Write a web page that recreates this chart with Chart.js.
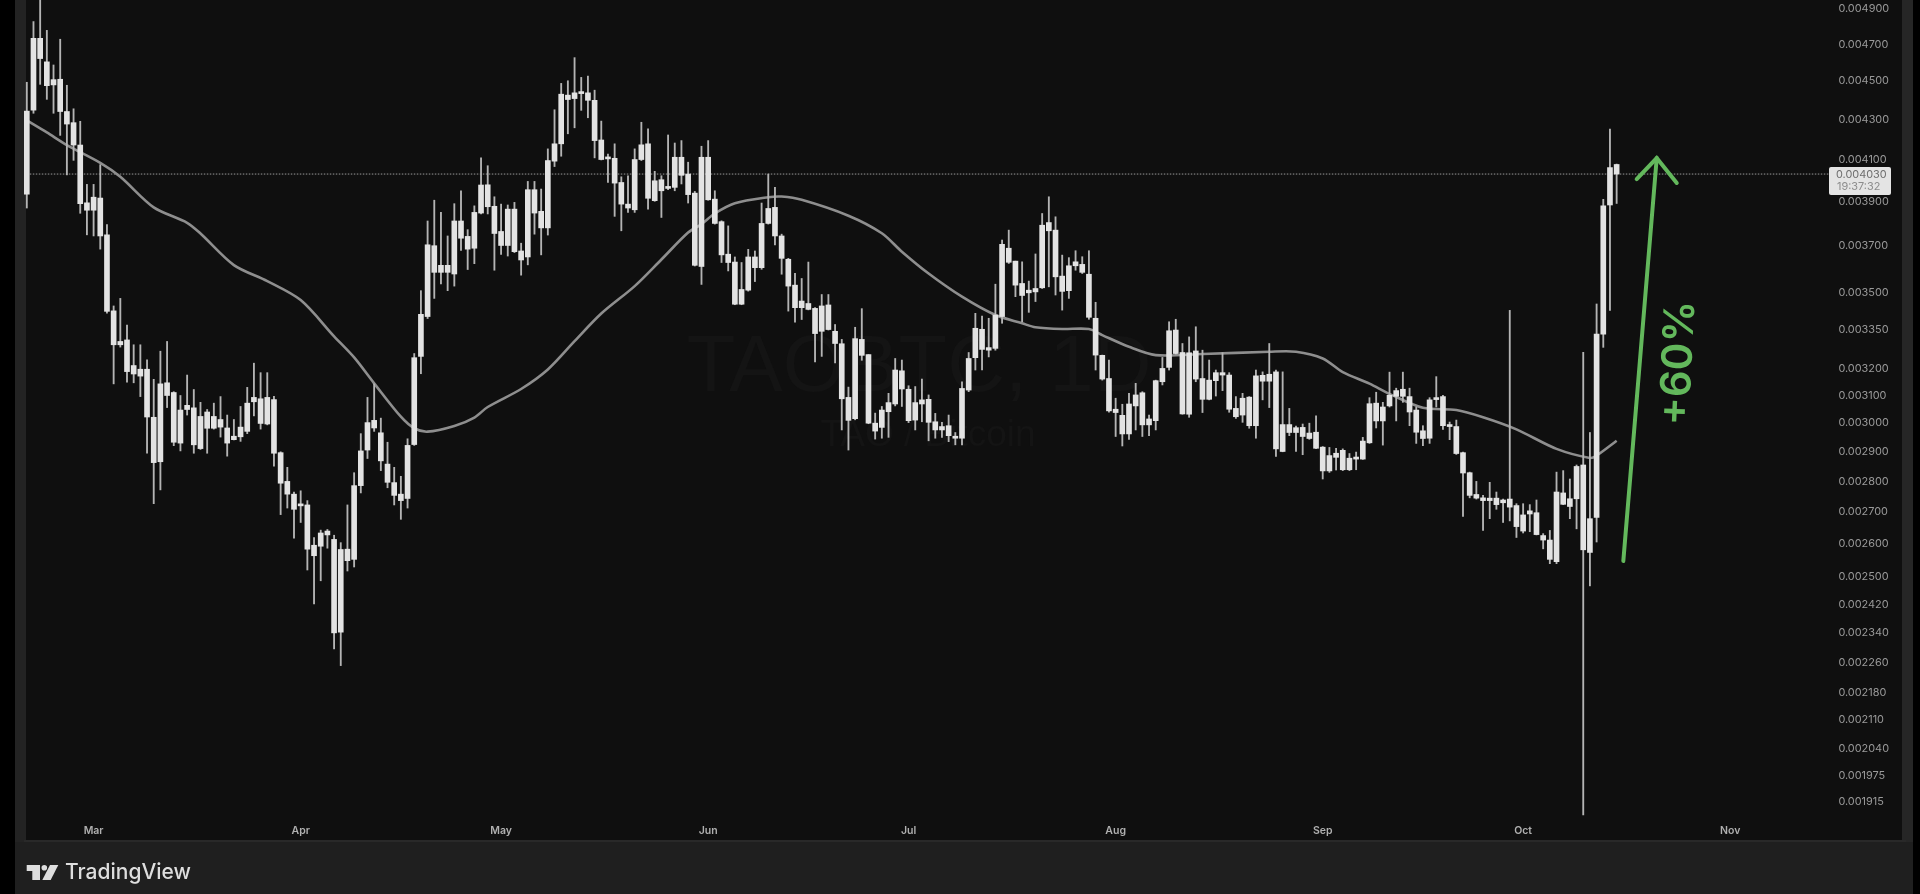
<!DOCTYPE html>
<html>
<head>
<meta charset="utf-8">
<title>TAOBTC, 1D</title>
<script src="https://cdn.jsdelivr.net/npm/chart.js@4"></script>
<style>
  html, body { margin: 0; padding: 0; background: #000; }
  canvas { display: block; }
</style>
</head>
<body>
<canvas id="chart" width="1920" height="894"></canvas>
<script>
// prices are in millionths of a BTC, the axis labels divide them back
const wickHigh = [
  4493,4828,4953,4778,4586,4728,4477,4354,4290,3981,
  3981,4075,3796,3447,3478,3370,3292,3292,3234,3160,
  3267,3305,3114,3100,3176,3122,3075,3049,3072,3096,
  3029,3013,3060,3130,3221,3185,3185,3097,2900,2847,
  2765,2769,2737,2620,2643,2645,2627,2604,2723,2829,
  2963,3093,3143,3018,2933,2847,2817,2945,3258,3510,
  3812,3907,3851,3745,3891,3951,3773,3881,4108,4070,
  3923,3889,3885,3897,3713,3995,3995,3959,4152,4349,
  4487,4501,4626,4519,4526,4451,4291,4127,4177,4017,
  4022,4152,4285,4252,4043,4022,4221,4181,4193,4087,
  3948,4165,4193,3951,3813,3790,3653,3629,3686,3679,
  3894,4030,3967,3753,3647,3583,3561,3631,3440,3494,
  3494,3372,3313,3131,3361,3436,3254,3036,3060,3108,
  3239,3233,3136,3133,3161,3102,3035,3003,3029,2967,
  3151,3262,3417,3406,3397,3537,3727,3771,3635,3632,
  3550,3666,3846,3923,3831,3661,3650,3680,3654,3680,
  3462,3252,3233,3090,3068,3108,3145,3114,3029,3157,
  3243,3383,3393,3297,3323,3363,3271,3233,3195,3261,
  3185,3096,3108,3096,3195,3188,3297,3195,3188,3053,
  2990,2997,3000,3026,2918,2915,2912,2910,2894,2899,
  2950,3092,3112,3075,3187,3127,3187,3127,3058,2991,
  3092,3170,3101,3004,3011,2899,2831,2800,2754,2797,
  2765,2742,3429,2727,2727,2724,2739,2632,2642,2831,
  2836,2808,2855,3263,2967,3455,3911,4250,4078
];
const bodyHigh = [
  4342,4733,4733,4603,4507,4509,4340,4283,4171,3895,
  3921,3917,3750,3427,3305,3311,3212,3198,3198,3021,
  3143,3147,3111,3047,3064,3055,3024,3040,3024,3013,
  2983,2954,2986,3072,3093,3088,3093,3085,2897,2800,
  2758,2723,2723,2596,2634,2640,2614,2583,2584,2786,
  2903,3002,3010,2966,2858,2796,2758,2922,3242,3413,
  3706,3702,3617,3617,3812,3812,3743,3851,3978,3979,
  3879,3765,3866,3866,3679,3956,3956,3856,4095,4177,
  4430,4425,4437,4437,4437,4398,4196,4108,4106,3990,
  3889,4100,4172,4177,3998,4003,3967,4111,4111,4030,
  3940,4111,4111,3912,3809,3665,3631,3515,3653,3653,
  3801,3869,3874,3745,3643,3533,3467,3457,3437,3447,
  3451,3345,3296,3093,3316,3313,3254,3000,3047,3074,
  3195,3192,3123,3074,3084,3086,3005,2988,2991,2952,
  3126,3239,3357,3353,3281,3410,3708,3691,3635,3540,
  3512,3519,3793,3805,3771,3571,3615,3632,3621,3579,
  3397,3251,3163,3050,3028,3069,3102,3110,3015,3155,
  3201,3347,3350,3262,3261,3268,3163,3157,3185,3185,
  3176,3053,3090,3094,3173,3175,3179,3188,2995,2995,
  2984,2985,2965,2968,2916,2887,2895,2905,2878,2882,
  2937,3070,3072,3058,3101,3118,3123,3096,3047,2973,
  3084,3089,3096,2991,2988,2897,2829,2757,2746,2745,
  2745,2739,2742,2721,2691,2704,2698,2626,2612,2765,
  2762,2743,2850,2855,2679,3334,3881,4061,4076
];
const bodyLow = [
  3935,4347,4621,4475,4479,4340,4276,4171,3891,3861,
  3861,3745,3425,3292,3292,3189,3180,3172,3022,2863,
  2866,3100,2933,2930,3049,2924,2911,2982,2982,2986,
  2930,2942,2952,2971,3077,2999,2997,2895,2794,2758,
  2709,2720,2584,2564,2593,2628,2340,2342,2549,2553,
  2786,2906,2983,2869,2797,2754,2737,2744,2925,3247,
  3404,3587,3587,3587,3580,3735,3687,3691,3848,3877,
  3756,3703,3703,3676,3640,3653,3848,3781,3781,4092,
  4177,4402,4407,4433,4398,4193,4100,4103,3987,3889,
  3871,3863,4100,3916,3905,3951,3962,3967,4024,3933,
  3617,3612,3909,3801,3662,3629,3454,3454,3512,3607,
  3607,3801,3745,3647,3529,3440,3440,3433,3336,3345,
  3352,3297,3088,3010,3016,3251,3000,2972,2985,3041,
  3069,3124,3009,3011,3069,3003,2976,2976,2956,2947,
  2947,3120,3242,3274,3271,3278,3404,3630,3533,3490,
  3501,3505,3522,3768,3568,3507,3510,3615,3587,3401,
  3252,3161,3044,3038,2962,2962,3062,2994,2994,3009,
  3151,3205,3258,3033,3032,3161,3086,3086,3155,3176,
  3050,3023,3029,2991,2991,3153,3153,2910,2901,2967,
  2967,2953,2946,2912,2835,2835,2881,2839,2839,2875,
  2875,2931,3008,3008,3062,3097,3097,3040,2968,2946,
  2947,3085,2991,2988,2894,2828,2754,2745,2737,2737,
  2724,2730,2716,2654,2640,2694,2629,2612,2553,2546,
  2725,2718,2743,2582,2574,2683,3334,3885,4030
];
const wickLow = [
  3871,4331,4482,4403,4331,4219,4026,4096,3847,3750,
  3745,3687,3418,3143,3283,3149,3147,3096,2895,2727,
  2772,3056,2921,2903,3029,2895,2908,2895,2979,2951,
  2885,2941,2936,2963,3026,2979,2994,2851,2692,2713,
  2618,2667,2521,2422,2489,2587,2296,2251,2518,2530,
  2762,2877,2971,2836,2779,2723,2677,2713,2922,3181,
  3396,3478,3538,3510,3529,3681,3599,3624,3844,3844,
  3596,3664,3657,3672,3575,3619,3753,3662,3749,4066,
  4116,4227,4257,4346,4308,4108,4098,3990,3833,3768,
  3851,3851,4095,3866,3902,3828,3956,3951,3983,3894,
  3614,3536,3907,3798,3629,3593,3452,3452,3508,3548,
  3600,3798,3705,3579,3426,3381,3392,3431,3226,3247,
  3350,3222,2976,2906,3012,3232,2998,2944,2947,2950,
  3062,3060,3002,2976,3005,2938,2947,2950,2935,2924,
  2924,3114,3195,3195,3245,3271,3377,3625,3485,3383,
  3421,3465,3519,3526,3492,3430,3478,3596,3582,3393,
  3195,3157,3039,2953,2920,2943,2976,2953,2956,2976,
  3139,3195,3256,3032,3021,3151,3038,3084,3098,3118,
  3039,3017,3003,2982,2947,3084,3056,2884,2900,2956,
  2901,2890,2943,2911,2808,2830,2838,2836,2836,2839,
  2874,2929,2983,2923,3058,3008,3075,2991,2929,2921,
  2929,3058,2978,2942,2891,2686,2746,2742,2642,2679,
  2709,2667,2672,2620,2634,2638,2628,2585,2540,2540,
  2724,2679,2647,1886,2474,2606,3282,3429,3892
];

// moving average, read at the candles listed in maDays
const maDays = [0,3,6,11,14,19,24,26,31,36,41,46,49,52,56,58,60,64,67,69,74,78,82,86,91,95,99,101,103,106,111,113,116,123,128,131,135,140,145,149,151,155,159,161,165,169,176,186,190,194,197,201,204,209,214,218,223,229,234,235,238];
const maValues = [4295,4234,4171,4084,4017,3874,3804,3756,3618,3550,3471,3325,3243,3145,3023,2982,2970,2990,3020,3058,3124,3197,3306,3416,3529,3642,3760,3798,3846,3893,3921,3924,3909,3836,3757,3676,3582,3485,3410,3377,3361,3354,3354,3330,3284,3252,3256,3265,3265,3239,3187,3144,3106,3055,3047,3021,2978,2910,2879,2887,2938];

const lastPrice = 4030;
const lastPriceText = '0.004030';
const countdownText = '19:37:32';

const priceTicks = [4900,4700,4500,4300,4100,3900,3700,3500,3350,3200,3100,3000,2900,2800,2700,2600,2500,2420,2340,2260,2180,2110,2040,1975,1915];

const monthNames = ['Feb','Mar','Apr','May','Jun','Jul','Aug','Sep','Oct','Nov'];
const monthLengths = [28,31,30,31,30,31,31,30,31,30];

// one label per day, first candle is Feb 19, axis runs on past the last candle
const days = [];
monthNames.forEach((m, k) => {
    for (let d = 1; d <= monthLengths[k]; d++) {
        if (k === 0 && d < 19) continue;
        if (days.length < 271) days.push(m + ' ' + d);
    }
});

const arrowShaft = [['Oct 16', 2548], ['Oct 21', 4107]];
const arrowHead = [['Oct 18', 4006], ['Oct 21', 4107], ['Oct 24', 3988]];

const green = '#63b85c';
const pts = list => list.map(p => ({ x: p[0], y: p[1] }));

const panePlugin = {
    id: 'pane',
    beforeDraw(chart) {
        const c = chart.ctx;
        c.save();
        c.fillStyle = '#000';
        c.fillRect(0, 0, 1920, 894);
        c.fillStyle = '#1f1f1f';
        c.fillRect(15, 0, 1898, 894);
        c.fillStyle = '#262626';
        c.fillRect(1902, 0, 11, 842);
        c.fillStyle = '#232323';
        c.fillRect(15, 0, 11, 842);
        c.fillStyle = '#292929';
        c.fillRect(24, 840, 1882, 2);
        c.fillStyle = '#0f0f0f';
        c.fillRect(26, 0, 1876, 840);
        // watermark
        c.fillStyle = '#141414';
        c.textAlign = 'center';
        c.textBaseline = 'middle';
        c.font = '80px "Liberation Sans"';
        c.fillText('TAOBTC, 1D', 919, 369);
        c.font = '37px "Liberation Sans"';
        c.fillText('TAO / Bitcoin', 928, 436);
        c.restore();
    },
    afterDraw(chart) {
        const c = chart.ctx;
        c.save();
        // last price tag
        c.fillStyle = '#e4e4e4';
        c.beginPath();
        c.roundRect(1829, 167, 62, 28, 2);
        c.fill();
        c.textAlign = 'left';
        c.textBaseline = 'middle';
        c.font = '10.9px Inter';
        c.fillStyle = '#6e6e6e';
        c.fillText(lastPriceText, 1836, 175);
        c.fillStyle = '#8c8c8c';
        c.fillText(countdownText, 1837, 187);
        // +60% note
        c.save();
        c.translate(1679, 363);
        c.rotate(-87.5 * Math.PI / 180);
        c.textAlign = 'center';
        c.fillStyle = green;
        c.font = '600 42px Inter';
        c.fillText('+60%', 0, 0);
        c.restore();
        // TradingView mark
        c.fillStyle = '#dedede';
        c.beginPath();
        c.moveTo(26.7, 865); c.lineTo(40, 865); c.lineTo(40, 880); c.lineTo(32.3, 880); c.lineTo(32.3, 871); c.lineTo(26.7, 871);
        c.closePath();
        c.fill();
        c.beginPath();
        c.arc(44.3, 867.7, 2.8, 0, Math.PI * 2);
        c.fill();
        c.beginPath();
        c.moveTo(50, 865); c.lineTo(58.3, 865); c.lineTo(50.7, 880); c.lineTo(42.3, 880);
        c.closePath();
        c.fill();
        c.font = '500 21px Inter';
        c.fillText('TradingView', 65, 873);
        c.restore();
    }
};

new Chart(document.getElementById('chart').getContext('2d'), {
    type: 'bar',
    data: {
        labels: days,
        datasets: [
            {
                label: 'body',
                data: bodyLow.map((v, i) => [v, bodyHigh[i]]),
                backgroundColor: '#e3e3e3',
                barThickness: 5,
                minBarLength: 2,
                grouped: false,
                clip: false,
                order: 1
            },
            {
                label: 'wick',
                data: wickLow.map((v, i) => [v, wickHigh[i]]),
                backgroundColor: '#b4b4b4',
                barThickness: 1.2,
                grouped: false,
                clip: false,
                order: 2
            },
            {
                type: 'line',
                label: 'MA',
                data: maDays.map((d, i) => ({ x: days[d], y: maValues[i] })),
                borderColor: '#8e8e8e',
                borderWidth: 2.6,
                pointRadius: 0,
                tension: 0.3,
                order: 3
            },
            {
                type: 'line',
                label: 'last',
                data: [{ x: days[0], y: lastPrice }, { x: days[days.length - 1], y: lastPrice }],
                borderColor: '#9a9a9a',
                borderWidth: 1,
                borderDash: [1.5, 1.5],
                pointRadius: 0,
                order: 4
            },
            {
                type: 'line',
                label: 'arrow',
                data: pts(arrowShaft),
                borderColor: green,
                borderWidth: 4,
                borderCapStyle: 'round',
                pointRadius: 0,
                order: 0
            },
            {
                type: 'line',
                label: 'arrow head',
                data: pts(arrowHead),
                borderColor: green,
                borderWidth: 4,
                borderCapStyle: 'round',
                pointRadius: 0,
                order: 0
            }
        ]
    },
    options: {
        responsive: false,
        animation: false,
        layout: { padding: { left: 26.8, top: 0, right: 0, bottom: 0 } },
        plugins: { legend: { display: false }, tooltip: { enabled: false } },
        scales: {
            x: {
                offset: false,
                grid: { display: false },
                border: { display: false },
                ticks: {
                    autoSkip: false,
                    maxRotation: 0,
                    padding: 1,
                    color: '#b0b0b0',
                    font: { family: 'Inter', size: 10.5, weight: '600' },
                    callback(v) { return this.getLabelForValue(v).slice(0, 3); }
                },
                afterBuildTicks(scale) {
                    scale.ticks = scale.ticks.filter(t => days[t.value].endsWith(' 1') && t.value > 0);
                },
                afterFit(scale) {
                    scale.height = 78;
                    scale.paddingLeft = 0;
                    scale.paddingRight = 0;
                }
            },
            y: {
                type: 'logarithmic',
                position: 'right',
                min: 1883.6,
                max: 4953,
                grid: { display: false },
                border: { display: false },
                ticks: {
                    autoSkip: false,
                    padding: 0,
                    color: '#9a9a9a',
                    font: { family: 'Inter', size: 10.9 },
                    callback: v => (v / 1e6).toFixed(6)
                },
                afterBuildTicks(scale) {
                    scale.ticks = priceTicks.map(v => ({ value: v }));
                },
                afterFit(scale) {
                    scale.width = 89.6;
                    scale.paddingTop = 0;
                    scale.paddingBottom = 0;
                }
            }
        }
    },
    plugins: [panePlugin]
});
</script>
</body>
</html>
